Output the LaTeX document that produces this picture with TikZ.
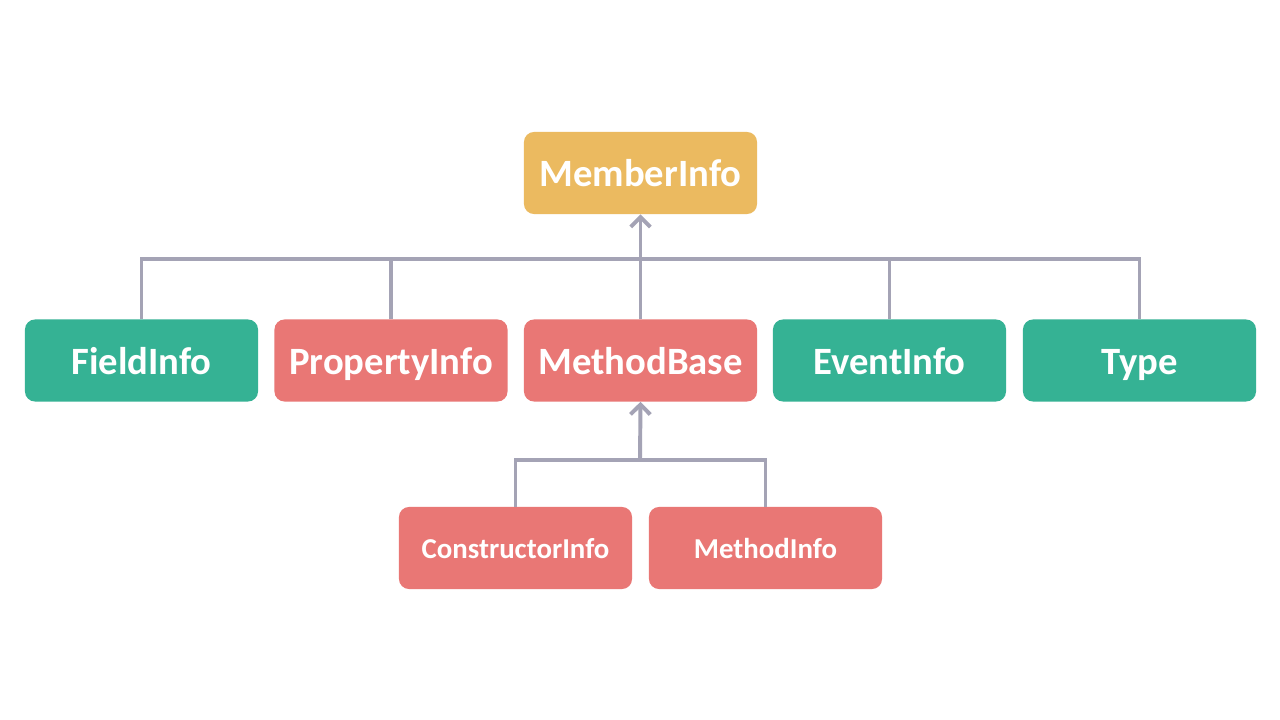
\documentclass[tikz,border=0pt]{standalone}
\usepackage{fontspec}
\setmainfont{Carlito}
\usetikzlibrary{arrows.meta}

\definecolor{gold}{HTML}{EBBA60}
\definecolor{teal}{HTML}{35B294}
\definecolor{rose}{HTML}{E97775}
\definecolor{wire}{HTML}{A4A3B5}

\tikzset{
    member/.style={rounded corners=0.25cm, minimum width=5.825cm, minimum height=2.05cm,
        inner sep=0pt, text=white, text height=19.8pt, text depth=0pt,
        font=\fontsize{27.5pt}{30pt}\selectfont\bfseries},
    small/.style={member, text height=14.8pt, font=\fontsize{20.5pt}{23pt}\selectfont\bfseries},
    bus/.style={line width=2.8pt, draw=wire},
}

\begin{document}
\begin{tikzpicture}[
    >={Straight Barb[length=7pt,width=14pt]},
    x=0.025cm,
    y=-0.025cm
]

% 0. Canvas
\useasboundingbox[fill=white] (0,0) rectangle (1280,720);

% 1. Base class
\node[member, fill=gold] (memberinfo) at (640.5,173) {MemberInfo};

% 2. Derived classes
\node[member, fill=teal] (fieldinfo) at (141.5,360.5) {FieldInfo};
\node[member, fill=rose] (propertyinfo) at (391,360.5) {PropertyInfo};
\node[member, fill=rose] (methodbase) at (640.5,360.5) {MethodBase};
\node[member, fill=teal] (eventinfo) at (889.5,360.5) {EventInfo};
\node[member, fill=teal] (type) at (1139.5,360.5) {Type};

% 3. Method classes
\node[small, fill=rose] (constructorinfo) at (515.5,548) {ConstructorInfo};
\node[small, fill=rose] (methodinfo) at (765.5,548) {MethodInfo};

% 4. Junctions
\coordinate (topbus) at (640,259);
\coordinate (lowbus) at (640,460);

% 5. Upper tree
\draw[bus] (fieldinfo.north) |- (topbus) -| (type.north);
\draw[bus] (propertyinfo.north) -- (propertyinfo.north |- topbus);
\draw[bus] (eventinfo.north) -- (eventinfo.north |- topbus);
\draw[bus, ->] (methodbase.north) -- (memberinfo.south);

% 6. Lower tree
\draw[bus] (constructorinfo.north) |- (lowbus) -| (methodinfo.north);
\draw[bus, ->] (lowbus) -- (methodbase.south);

\end{tikzpicture}
\end{document}
